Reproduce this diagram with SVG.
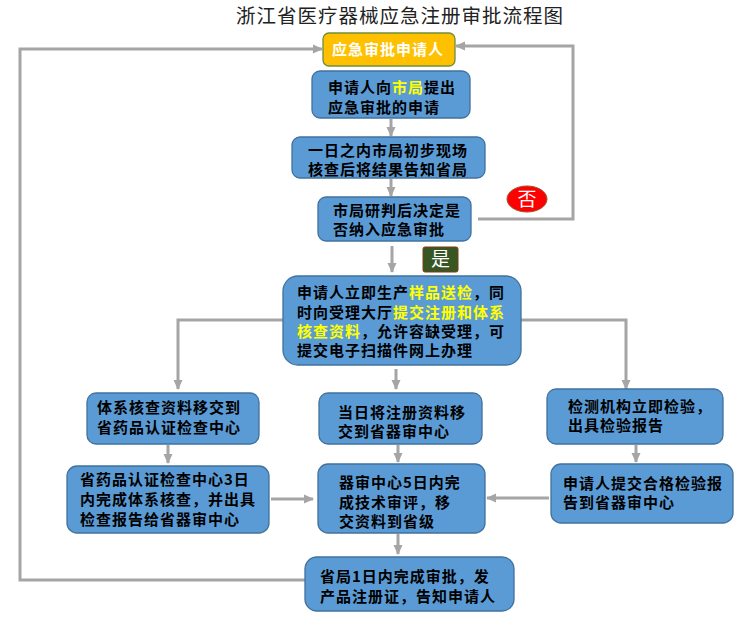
<svg xmlns="http://www.w3.org/2000/svg" width="753" height="618" viewBox="0 0 753 618">
<defs>
<marker id="ah" markerUnits="userSpaceOnUse" markerWidth="10" markerHeight="10" viewBox="0 0 10 10" refX="9" refY="5" orient="auto">
<path d="M0,0.5 L10,5 L0,9.5 z" fill="#A5A5A5"/>
</marker>
<style>
.box{fill:#5B9BD5;stroke:#41719C;stroke-width:1.3}
.t{font-family:"Noto Sans CJK SC","Noto Sans",sans-serif;font-size:15px;font-weight:bold;fill:#000;letter-spacing:1px}
.y{fill:#FFFF00}
.w{fill:#FFFFFF}
.c{fill:none;stroke:#A5A5A5;stroke-width:3}
.a{marker-end:url(#ah)}
</style>
</defs>
<rect width="753" height="618" fill="#FFFFFF"/>
<text x="400" y="23" text-anchor="middle" font-family="'Noto Sans CJK SC','Noto Sans',sans-serif" font-size="19.5" letter-spacing="1" fill="#222">浙江省医疗器械应急注册审批流程图</text>

<g id="connectors">
<path class="c a" d="M391,119 L391,136"/>
<path class="c a" d="M391,179 L391,196"/>
<path class="c a" d="M478,219 L573,219 L573,46 L456,46"/>
<path class="c a" d="M392,246 L392,272"/>
<path class="c a" d="M283,320 L178,320 L178,389"/>
<path class="c a" d="M521,320 L626,320 L626,389"/>
<path class="c a" d="M396,369 L396,389"/>
<path class="c a" d="M168,445 L168,463"/>
<path class="c a" d="M398,445 L398,462"/>
<path class="c a" d="M636,445 L636,462"/>
<path class="c a" d="M271,499 L313,499"/>
<path class="c a" d="M549,498 L487,498"/>
<path class="c a" d="M398,534 L398,554"/>
<path class="c a" d="M305,580 L20,580 L20,49 L322,49"/>
</g>

<g id="n1">
<rect x="323" y="33" width="132" height="33" rx="6" fill="#FFC000" stroke="#6F8F3A" stroke-width="1.3"/>
<text class="t w" x="332" y="55">应急审批申请人</text>
</g>
<g id="n2">
<rect class="box" x="312" y="71" width="158" height="47" rx="8"/>
<text class="t" x="328" y="93">申请人向<tspan class="y">市局</tspan>提出</text>
<text class="t" x="328" y="113">应急审批的申请</text>
</g>
<g id="n3">
<rect class="box" x="292" y="137" width="193" height="41" rx="8"/>
<text class="t" x="308" y="156">一日之内市局初步现场</text>
<text class="t" x="308" y="175">核查后将结果告知省局</text>
</g>
<g id="n4">
<rect class="box" x="318" y="197" width="153" height="44" rx="8"/>
<text class="t" x="333" y="216">市局研判后决定是</text>
<text class="t" x="333" y="235">否纳入应急审批</text>
</g>
<g id="no">
<ellipse cx="527" cy="199" rx="20" ry="13" fill="#FF0000" stroke="#A0522D" stroke-width="1"/>
<text x="527" y="206" text-anchor="middle" font-family="'Noto Sans CJK SC',sans-serif" font-size="19" fill="#FFFFFF">否</text>
</g>
<g id="yes">
<rect x="423" y="247" width="35" height="25" rx="2" fill="#375623" stroke="#843C0C" stroke-width="1"/>
<text x="440.5" y="266" text-anchor="middle" font-family="'Noto Sans CJK SC',sans-serif" font-size="19" fill="#FFFFFF">是</text>
</g>
<g id="n5">
<rect class="box" x="283" y="276" width="238" height="89" rx="15"/>
<text class="t" x="297" y="298">申请人立即生产<tspan class="y">样品送检</tspan>，同</text>
<text class="t" x="297" y="318">时向受理大厅<tspan class="y">提交注册和体系</tspan></text>
<text class="t" x="297" y="337"><tspan class="y">核查资料</tspan>，允许容缺受理，可</text>
<text class="t" x="297" y="356">提交电子扫描件网上办理</text>
</g>
<g id="n6l">
<rect class="box" x="87" y="393" width="172" height="51" rx="9"/>
<text class="t" x="97" y="413">体系核查资料移交到</text>
<text class="t" x="97" y="433">省药品认证检查中心</text>
</g>
<g id="n6m">
<rect class="box" x="319" y="393" width="163" height="51" rx="9"/>
<text class="t" x="338" y="418">当日将注册资料移</text>
<text class="t" x="338" y="437">交到省器审中心</text>
</g>
<g id="n6r">
<rect class="box" x="547" y="389" width="176" height="55" rx="9"/>
<text class="t" x="568" y="412">检测机构立即检验，</text>
<text class="t" x="568" y="431">出具检验报告</text>
</g>
<g id="n7l">
<rect class="box" x="67" y="466" width="202" height="67" rx="10"/>
<text class="t" x="80" y="485">省药品认证检查中心3日</text>
<text class="t" x="80" y="505">内完成体系核查，并出具</text>
<text class="t" x="80" y="525">检查报告给省器审中心</text>
</g>
<g id="n7m">
<rect class="box" x="318" y="464" width="167" height="69" rx="10"/>
<text class="t" x="339" y="488">器审中心5日内完</text>
<text class="t" x="339" y="508">成技术审评，移</text>
<text class="t" x="339" y="527">交资料到省级</text>
</g>
<g id="n7r">
<rect class="box" x="551" y="464" width="182" height="59" rx="10"/>
<text class="t" x="563" y="489">申请人提交合格检验报</text>
<text class="t" x="563" y="508">告到省器审中心</text>
</g>
<g id="n8">
<rect class="box" x="305" y="557" width="209" height="54" rx="12"/>
<text class="t" x="320" y="582">省局1日内完成审批，发</text>
<text class="t" x="320" y="602">产品注册证，告知申请人</text>
</g>
</svg>
